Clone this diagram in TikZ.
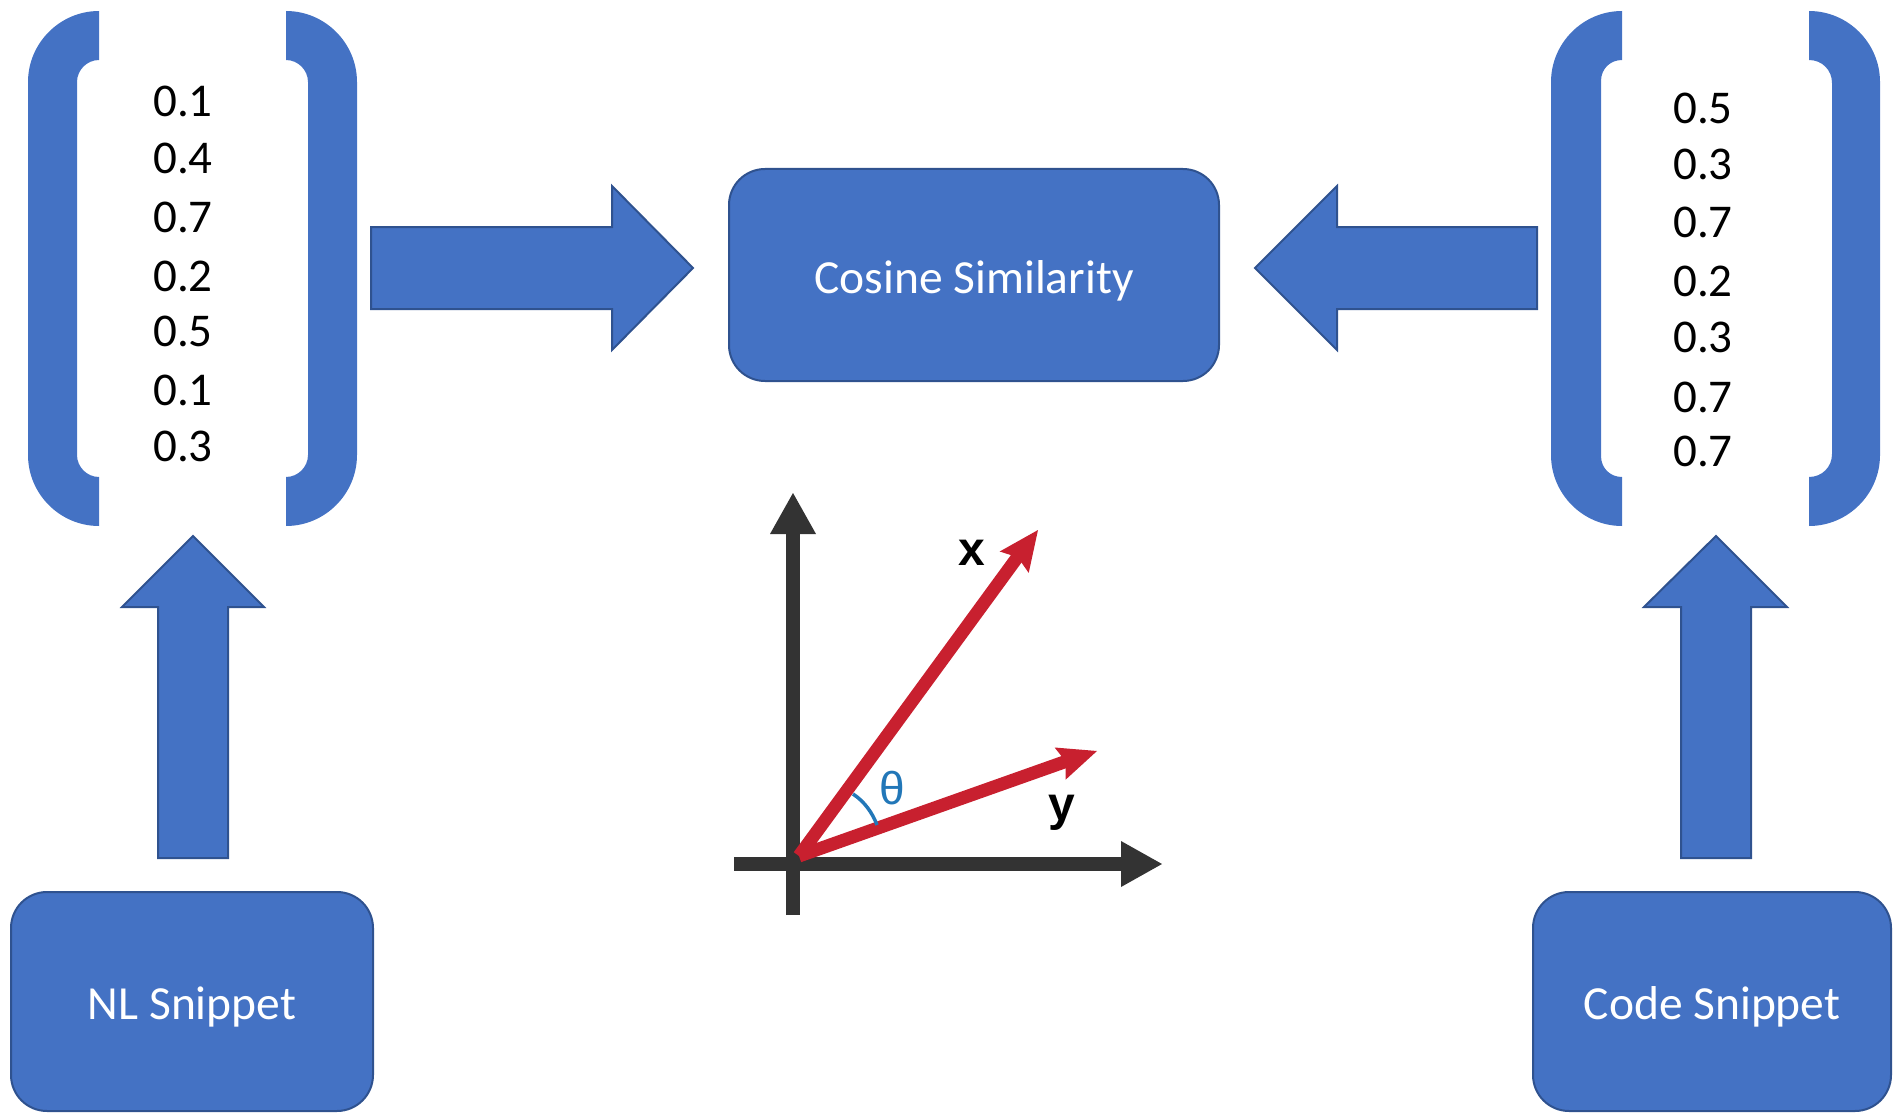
\documentclass[tikz,border=0pt]{standalone}
\usepackage{fontspec}
\setmainfont{Carlito}
\newfontfamily\plotfont{Liberation Sans}
\definecolor{boxblue}{HTML}{4472C4}
\definecolor{boxedge}{HTML}{2F528F}
\definecolor{axisgray}{HTML}{333333}
\definecolor{vecred}{HTML}{C8202F}
\definecolor{thetablue}{HTML}{2277B8}
\begin{document}
\begin{tikzpicture}[x=1pt,y=-1pt,
  box/.style={draw=boxedge, line width=2pt, fill=boxblue, rounded corners=36pt,
    text=white, font=\fontsize{47.5}{57}\selectfont, text height=36pt, text depth=0pt, inner sep=0pt},
  blockarrow/.style={draw=boxedge, line width=2pt, fill=boxblue, line join=miter},
  bracketshape/.style={fill=boxblue},
  num/.style={font=\fontsize{47}{57}\selectfont, anchor=base, inner sep=0pt},
  axisline/.style={draw=axisgray, line width=14pt},
  vecline/.style={draw=vecred, line width=13pt},
  plotlabel/.style={font=\plotfont\bfseries\fontsize{48}{48}\selectfont, anchor=base, inner sep=0pt},
]
\useasboundingbox (0,0) rectangle (1893,1113);

% boxes
\node[box, minimum width=490pt, minimum height=212pt] (cos) at (974,275) {Cosine Similarity};
\node[box, minimum width=362pt, minimum height=219pt] (nl) at (192,1001.5) {NL Snippet};
\node[box, minimum width=358pt, minimum height=219pt] (code) at (1712,1001.5) {Code Snippet};

% left vector brackets
\fill[bracketshape] (99,11) .. controls (60,11) and (28,43) .. (28,82) -- (28,455)
  .. controls (28,494) and (60,526) .. (99,526) -- (99,477)
  .. controls (87,477) and (77,467) .. (77,455) -- (77,82)
  .. controls (77,70) and (87,60) .. (99,60) -- cycle;
\fill[bracketshape] (286,11) .. controls (325,11) and (357,43) .. (357,82) -- (357,455)
  .. controls (357,494) and (325,526) .. (286,526) -- (286,477)
  .. controls (298,477) and (308,467) .. (308,455) -- (308,82)
  .. controls (308,70) and (298,60) .. (286,60) -- cycle;
% right vector brackets
\fill[bracketshape] (1622,11) .. controls (1583,11) and (1551,43) .. (1551,82) -- (1551,455)
  .. controls (1551,494) and (1583,526) .. (1622,526) -- (1622,477)
  .. controls (1610,477) and (1601,468) .. (1601,456) -- (1601,81)
  .. controls (1601,69) and (1610,60) .. (1622,60) -- cycle;
\fill[bracketshape] (1809,11) .. controls (1848,11) and (1880,43) .. (1880,82) -- (1880,455)
  .. controls (1880,494) and (1848,526) .. (1809,526) -- (1809,477)
  .. controls (1822,477) and (1832,467) .. (1832,454) -- (1832,83)
  .. controls (1832,70) and (1822,60) .. (1809,60) -- cycle;

% numbers
\node[num] (l1) at (183,117) {0.1};
\node[num] (l2) at (183,173) {0.4};
\node[num] (l3) at (183,232) {0.7};
\node[num] (l4) at (183,291) {0.2};
\node[num] (l5) at (183,346) {0.5};
\node[num] (l6) at (183,405) {0.1};
\node[num] (l7) at (183,461) {0.3};
\node[num] (r1) at (1703,124) {0.5};
\node[num] (r2) at (1703,179) {0.3};
\node[num] (r3) at (1703,237) {0.7};
\node[num] (r4) at (1703,296) {0.2};
\node[num] (r5) at (1703,352) {0.3};
\node[num] (r6) at (1703,412) {0.7};
\node[num] (r7) at (1703,466) {0.7};

% block arrows
\draw[blockarrow] (371,227) -- (612,227) -- (612,186) -- (693,268) -- (612,350) -- (612,309) -- (371,309) -- cycle;
\draw[blockarrow] (1537,227) -- (1337,227) -- (1337,186) -- (1255,268) -- (1337,350) -- (1337,309) -- (1537,309) -- cycle;
\draw[blockarrow] (158,858) -- (158,607) -- (122,607) -- (193,536) -- (264,607) -- (228,607) -- (228,858) -- cycle;
\draw[blockarrow] (1681,858) -- (1681,607) -- (1644,607) -- (1716,536) -- (1787,607) -- (1751,607) -- (1751,858) -- cycle;

% vector plot
\draw[axisline] (793,915) -- (793,532);
\fill[axisgray] (793,493) -- (770,534) -- (816,534) -- cycle;
\draw[axisline] (734,864) -- (1123,864);
\fill[axisgray] (1162,864) -- (1121,841) -- (1121,887) -- cycle;

\coordinate (o) at (799,856);
\draw[vecline] (o) -- (1019,555);
\fill[vecred] (1038,530) -- (1028.7,572.9) -- (1017.8,557.3) -- (999.7,551.5) -- cycle;
\draw[vecline] (o) -- (1067,761);
\fill[vecred] (1097,751) -- (1065.6,779.7) -- (1065.8,761.6) -- (1054.6,747.5) -- cycle;

\draw[thetablue, line width=3.5pt] (877,825) .. controls (872.4,812.8) and (864.5,801.6) .. (853,794);
\node[font=\plotfont\fontsize{46}{46}\selectfont, text=thetablue, inner sep=0pt] (theta) at (892,788) {θ};
\node[plotlabel] (xl) at (972,565) {x};
\node[plotlabel] (yl) at (1062,820) {y};
\end{tikzpicture}
\end{document}
